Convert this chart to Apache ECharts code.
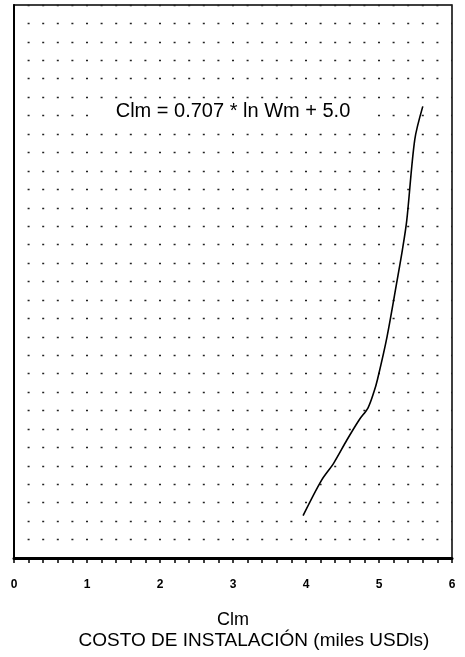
<!DOCTYPE html>
<html>
<head>
<meta charset="utf-8">
<script src="https://cdn.jsdelivr.net/npm/echarts@6/dist/echarts.min.js"></script>
<style>html,body{margin:0;padding:0;background:#fff;}#c{width:465px;height:657px;}</style>
</head>
<body>
<div id="c"></div>
<script>
// Data
const clmValues = [3.96, 4.21, 4.38, 4.56, 4.73, 4.85, 4.93, 4.98, 5.11, 5.25, 5.32, 5.38, 5.49, 5.60];
const wmValues  = [2.3, 4.2, 5.15, 6.4, 7.5, 8.15, 9.0, 9.7, 12.0, 15.1, 16.7, 18.3, 22.7, 24.5];
const xTickLabels = ['0', '1', '2', '3', '4', '5', '6'];
const equationText = 'Clm = 0.707 * ln Wm + 5.0';
const axisTitleTop = 'Clm';
const axisTitleBottom = 'COSTO DE INSTALACIÓN (miles USDls)';

const seriesData = clmValues.map((x, i) => [x, wmValues[i]]);
const FONT = '"Liberation Sans", Arial, sans-serif';

const chart = echarts.init(document.getElementById('c'));
chart.setOption({
  animation: false,
  backgroundColor: '#fff',
  grid: { left: 14, right: 13, top: 5, bottom: 99, show: true, borderColor: '#000', borderWidth: 1.5, backgroundColor: 'transparent' },
  xAxis: {
    type: 'value', min: 0, max: 6, interval: 1,
    axisLine: { show: true, onZero: false, lineStyle: { color: '#000', width: 3 } },
    axisTick: { show: true, inside: false, length: 5, lineStyle: { color: '#000', width: 1.5 } },
    minorTick: { show: true, splitNumber: 5, length: 5, lineStyle: { color: '#000', width: 1.5 } },
    splitLine: { show: false },
    axisLabel: {
      color: '#000', fontSize: 12, fontWeight: 'bold', fontFamily: FONT, margin: 21,
      formatter: v => xTickLabels[Math.round(v)] ?? ''
    }
  },
  yAxis: {
    type: 'value', min: 0, max: 30, interval: 1,
    axisLine: { show: true, lineStyle: { color: '#000', width: 2 } },
    axisTick: { show: false },
    axisLabel: { show: false },
    splitLine: { show: true, lineStyle: { color: '#222', width: 1.3, type: [2, 12.6], dashOffset: 1 } }
  },
  graphic: [
    {
      type: 'text', x: 233, y: 111, z: 10,
      style: {
        text: equationText, font: '20px ' + FONT, fill: '#000',
        align: 'center', verticalAlign: 'middle',
        backgroundColor: '#fff', padding: [2, 18]
      }
    },
    {
      type: 'text', x: 233, y: 620, z: 10,
      style: { text: axisTitleTop, font: '18px ' + FONT, fill: '#000', align: 'center', verticalAlign: 'middle' }
    },
    {
      type: 'text', x: 254, y: 641, z: 10,
      style: { text: axisTitleBottom, font: '19px ' + FONT, fill: '#000', align: 'center', verticalAlign: 'middle' }
    }
  ],
  series: [{
    type: 'line', data: seriesData, smooth: 0.3, showSymbol: false,
    lineStyle: { color: '#000', width: 1.6 }
  }]
});
</script>
</body>
</html>
